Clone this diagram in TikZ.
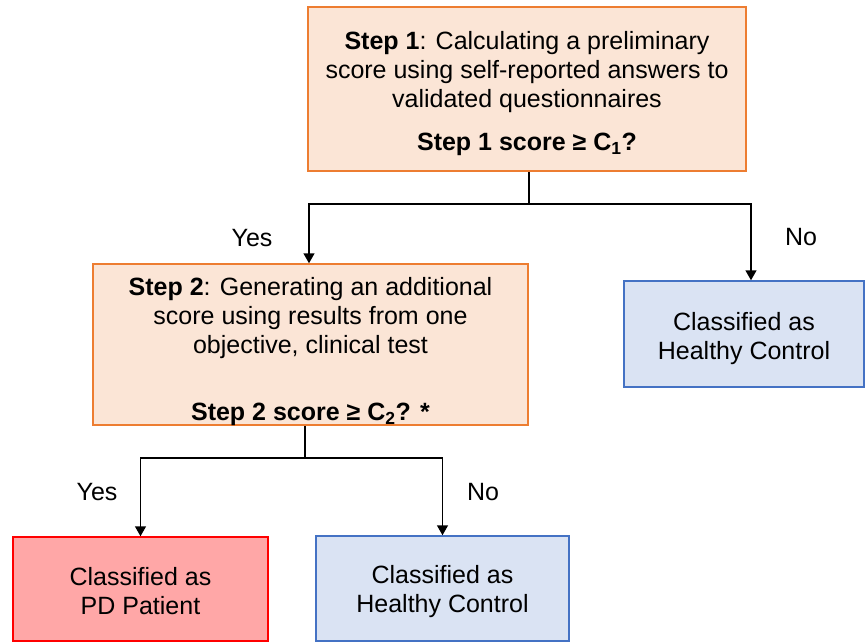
\documentclass[tikz,border=0pt]{standalone}
\usepackage{fontspec}
\setmainfont{Liberation Sans}
\usetikzlibrary{arrows.meta,calc}
\definecolor{ofill}{HTML}{FBE5D6}
\definecolor{oline}{HTML}{ED7D31}
\definecolor{bfill}{HTML}{DAE3F3}
\definecolor{bline}{HTML}{4472C4}
\definecolor{rfill}{HTML}{FFA7A7}
\definecolor{rline}{HTML}{FF0000}
\begin{document}
\begin{tikzpicture}[x=1pt,y=-1pt,
  box/.style={rectangle, line width=1.5pt, inner sep=0pt},
  obox/.style={box, draw=oline, fill=ofill},
  bbox/.style={box, draw=bline, fill=bfill},
  rbox/.style={box, draw=rline, fill=rfill},
  txt/.style={align=center, inner sep=0pt, font=\fontsize{25}{29}\selectfont},
  conn/.style={line width=1.5pt, draw=black},
  arr/.style={conn, -{Triangle[length=10pt,width=11pt]}},
  lbl/.style={font=\fontsize{25}{29}\selectfont, inner sep=0pt}
]
\useasboundingbox (0,0) rectangle (865,642);
\fill[white] (0,0) rectangle (865,642);

\node[obox, minimum width=438pt, minimum height=164pt] (s1) at (527,89) {};
\node[txt] (t1) at ($(s1.center)+(0,5)$)
  {\textbf{Step 1}: Calculating a preliminary\\score using self-reported answers to\\validated questionnaires\\[14pt]\textbf{Step 1 score ≥ C\textsubscript{1}?}};
\node[obox, minimum width=435pt, minimum height=161pt] (s2) at (310.5,344.5) {};
\node[txt] (t2) at ($(s2.center)+(0,7)$)
  {\textbf{Step 2}: Generating an additional\\score using results from one\\objective, clinical test\\[38pt]\textbf{Step 2 score ≥ C\textsubscript{2}? *}};
\node[bbox, minimum width=240pt, minimum height=106pt] (hc1) at (744,334) {};
\node[txt] (t3) at ($(hc1.center)+(0,5)$) {Classified as\\Healthy Control};
\node[rbox, minimum width=255pt, minimum height=104pt] (pd) at (140.5,589) {};
\node[txt] (t4) at ($(pd.center)+(0,2)$) {Classified as\\PD Patient};
\node[bbox, minimum width=253pt, minimum height=105pt] (hc2) at (442.5,588.5) {};
\node[txt] (t5) at ($(hc2.center)+(0,3)$) {Classified as\\Healthy Control};

\node[lbl] (yes1) at (252,238) {Yes};
\node[lbl] (no1) at (801,237) {No};
\node[lbl] (yes2) at (97,492) {Yes};
\node[lbl] (no2) at (483,492) {No};

\draw[conn] ([xshift=2pt]s1.south) -- ++(0,32) coordinate (j1);
\draw[arr] (j1) -| ([xshift=-1.5pt]s2.north);
\draw[arr] (j1) -| ([xshift=7pt]hc1.north);

\draw[conn] ([xshift=-5.5pt]s2.south) -- ++(0,32) coordinate (j2);
\draw[arr] (j2) -| (pd.north);
\draw[arr] (j2) -| (hc2.north);
\end{tikzpicture}
\end{document}
